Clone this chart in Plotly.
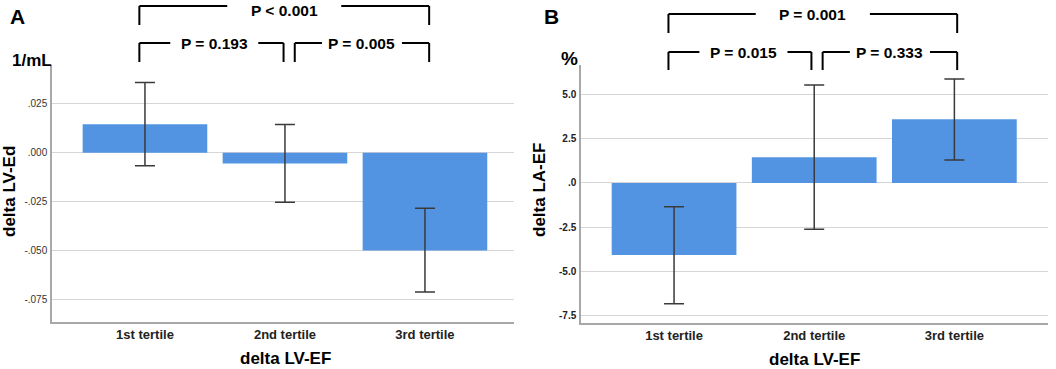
import plotly.graph_objects as go

W, H = 1056, 369

categories = ["1st tertile", "2nd tertile", "3rd tertile"]

# Panel A: delta LV-Ed (1/mL)
a_values = [0.0146, -0.0055, -0.0500]
a_err_plus = [0.0214, 0.0200, 0.0216]
a_err_minus = [0.0212, 0.0198, 0.0213]
a_tickvals = [0.025, 0.0, -0.025, -0.050, -0.075]
a_ticktext = [".025", ".000", "-.025", "-.050", "-.075"]
a_pvals = ["P < 0.001", "P = 0.193", "P = 0.005"]

# Panel B: delta LA-EF (%)
b_values = [-4.07, 1.45, 3.59]
b_err_plus = [2.73, 4.08, 2.28]
b_err_minus = [2.75, 4.07, 2.30]
b_tickvals = [5.0, 2.5, 0.0, -2.5, -5.0, -7.5]
b_ticktext = ["5.0", "2.5", ".0", "-2.5", "-5.0", "-7.5"]
b_pvals = ["P = 0.001", "P = 0.015", "P = 0.333"]

BAR = "#5294E2"
ERR = "#3a3a3a"
GRID = "#d6d6d6"
AXIS = "#a8a8a8"
FONT = "Liberation Sans, Arial, sans-serif"


def px_x(p):
    return p / W


def px_y(p):
    return 1 - p / H


fig = go.Figure()
xs = [0, 1, 2]

fig.add_trace(go.Bar(
    x=xs, y=a_values, width=0.89, marker=dict(color=BAR, line=dict(width=0)),
    error_y=dict(type="data", array=a_err_plus, arrayminus=a_err_minus,
                 color=ERR, thickness=1.5, width=10),
    xaxis="x", yaxis="y", showlegend=False, hoverinfo="skip"))
fig.add_trace(go.Bar(
    x=xs, y=b_values, width=0.89, marker=dict(color=BAR, line=dict(width=0)),
    error_y=dict(type="data", array=b_err_plus, arrayminus=b_err_minus,
                 color=ERR, thickness=1.5, width=10),
    xaxis="x2", yaxis="y2", showlegend=False, hoverinfo="skip"))

common_x = dict(tickmode="array", tickvals=xs, ticktext=categories,
                showgrid=False, zeroline=False, showline=True, linecolor=AXIS,
                linewidth=1.5, ticks="", ticklabelstandoff=0,
                tickfont=dict(family=FONT, size=13, color="#222222", weight="bold"))
common_y = dict(tickmode="array", showgrid=True, gridcolor=GRID, gridwidth=1.2,
                zeroline=False, showline=True, linecolor=AXIS, linewidth=1.5,
                ticks="", ticklabelstandoff=1)

fig.update_layout(
    xaxis=dict(domain=[px_x(52), px_x(514)], range=[-0.664, 2.636],
               anchor="y", **common_x),
    yaxis=dict(domain=[px_y(322), px_y(65)], range=[-0.0866, 0.04495],
               tickvals=a_tickvals, ticktext=a_ticktext, anchor="x",
               tickfont=dict(family=FONT, size=10, color="#333333"), **common_y),
    xaxis2=dict(domain=[px_x(581), px_x(1048)], range=[-0.664, 2.668],
                anchor="y2", **common_x),
    yaxis2=dict(domain=[px_y(323), px_y(65)], range=[-7.91, 6.657],
                tickvals=b_tickvals, ticktext=b_ticktext, anchor="x2",
                tickfont=dict(family=FONT, size=10, color="#222222", weight="bold"),
                **common_y),
)

shapes = []
annotations = []


def bracket(xref, x0, x1, ytop, ybot, text, gap_px, center=None, text_y=None):
    xc = (x0 + x1) / 2 if center is None else center
    gap = gap_px / 140.0
    line = dict(color="black", width=2)
    for (a, b) in [(x0, xc - gap), (xc + gap, x1)]:
        shapes.append(dict(type="line", xref=xref, yref="paper", x0=a, x1=b,
                           y0=px_y(ytop), y1=px_y(ytop), line=line))
    for xx in (x0, x1):
        shapes.append(dict(type="line", xref=xref, yref="paper", x0=xx, x1=xx,
                           y0=px_y(ytop), y1=px_y(ybot), line=line))
    ty = ytop + 0.5 if text_y is None else text_y
    annotations.append(dict(xref=xref, yref="paper", x=xc, y=px_y(ty),
                            text=text, showarrow=False, xanchor="center",
                            yanchor="middle",
                            font=dict(family=FONT, size=15.5, color="black",
                                      weight="bold")))


L, R, ML, MR = -0.04, 2.03, 0.99, 1.07
bracket("x", L, R, 6, 25, a_pvals[0], 57, text_y=10)
bracket("x", L, ML, 43, 62, a_pvals[1], 44, center=(L + ML) / 2 + 0.02)
bracket("x", MR, R, 43, 62, a_pvals[2], 40)
bracket("x2", L, R - 0.01, 14, 33, b_pvals[0], 57)
bracket("x2", L, ML - 0.01, 52, 70, b_pvals[1], 44, center=(L + ML) / 2 + 0.02)
bracket("x2", MR - 0.01, R - 0.01, 52, 70, b_pvals[2], 40)


def label(x, y, text, size, angle=0):
    annotations.append(dict(xref="paper", yref="paper", x=px_x(x), y=px_y(y),
                            text=text, showarrow=False, xanchor="center",
                            yanchor="middle", textangle=angle,
                            font=dict(family=FONT, size=size, color="black",
                                      weight="bold")))


label(17, 16, "A", 21)
label(551, 16, "B", 21)
label(32, 60, "1/mL", 17)
label(569, 59, "%", 19)
label(9, 192, "delta LV-Ed", 17, -90)
label(539, 190, "delta LA-EF", 17, -90)
label(285, 358, "delta LV-EF", 17)
label(814, 359, "delta LV-EF", 17)

fig.update_layout(
    width=W, height=H, margin=dict(l=0, r=0, t=0, b=0),
    paper_bgcolor="white", plot_bgcolor="white",
    shapes=shapes, annotations=annotations, bargap=0.1,
)

fig.write_html("out.html", config={"displayModeBar": False},
               post_script="document.body.style.margin='0px';")
